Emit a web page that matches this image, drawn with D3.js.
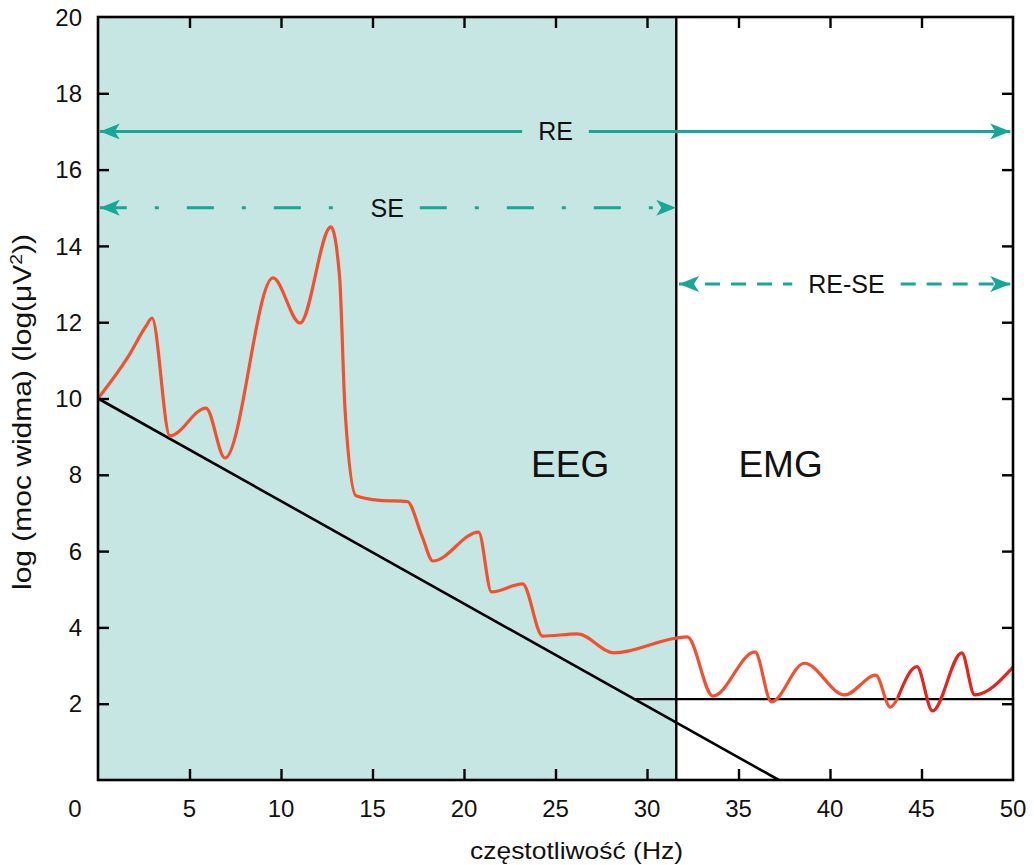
<!DOCTYPE html>
<html>
<head>
<meta charset="utf-8">
<script src="https://cdn.jsdelivr.net/npm/d3@7"></script>
<style>
  html, body { margin: 0; padding: 0; background: #ffffff; }
  svg { display: block; }
  text { font-family: "Liberation Sans", Arial, Helvetica, sans-serif; fill: #111; }
</style>
</head>
<body>
<svg id="chart" width="1034" height="865"></svg>
<script>
// ---- data ----
const xTicks = [0, 5, 10, 15, 20, 25, 30, 35, 40, 45, 50];
const yTicks = [2, 4, 6, 8, 10, 12, 14, 16, 18, 20];

// spectrum (orange part)
const spectrumFreq = [0, 1.64, 2.6, 2.95, 3.93, 5.9, 6.94, 9.56, 11.04, 12.73, 13.2, 13.5, 14.1, 15.4, 16.9, 17.7, 18.3, 20.8, 21.5, 23.2, 24.3, 26.2, 28.2, 31.6, 32.2, 33.6, 35.9, 36.8, 38.6, 40.8, 42.5, 43.3, 43.7];
const spectrumLogPower = [10.0, 11.09, 11.88, 12.11, 9.02, 9.75, 8.44, 13.16, 11.98, 14.5, 13.2, 9.7, 7.45, 7.33, 7.3, 6.4, 5.74, 6.5, 4.93, 5.14, 3.77, 3.83, 3.33, 3.72, 3.75, 2.2, 3.36, 2.05, 3.06, 2.23, 2.75, 1.91, 2.15];
// spectrum (red tail)
const tailFreq = [43.7, 44.75, 45.6, 47.2, 47.9, 50];
const tailLogPower = [2.15, 2.97, 1.81, 3.33, 2.23, 2.96];

// 1/f baseline and noise floor
const baselineFreq = [0, 37.2];
const baselineLogPower = [10, 0];
const floorFreq = [29.3, 50];
const floorLogPower = [2.12, 2.12];

// EEG band
const eegBand = [0, 31.6];

// entropy arrows
const arrowLabels = ["RE", "SE", "RE-SE"];
const arrowFrom = [0.1, 0.1, 31.75];
const arrowTo = [49.85, 31.6, 49.85];
const arrowLevel = [17, 15, 13];
const arrowLabelAt = [25.0, 15.8, 40.9];
const arrowStyles = ["solid", "dashdot", "dashed"];

const regionLabels = ["EEG", "EMG"];
const regionLabelAt = [25.8, 37.3];
const regionLabelLevel = [7.95, 7.95];

// ---- layout ----
const svg = d3.select("#chart");
const L = 98, R = 1013, T = 17, B = 780;
const x = d3.scaleLinear().domain([0, 50]).range([L, R]);
const y = d3.scaleLinear().domain([0, 20]).range([B, T]);

const teal = "#17a796";
const orange = "#f2502f";
const red = "#e8221c";

// shaded EEG band
svg.append("rect")
  .attr("x", x(eegBand[0])).attr("y", T)
  .attr("width", x(eegBand[1]) - x(eegBand[0])).attr("height", B - T)
  .attr("fill", "#c6e6e4");

// lines
const line = d3.line().x(d => x(d[0])).y(d => y(d[1])).curve(d3.curveMonotoneX);
const straight = d3.line().x(d => x(d[0])).y(d => y(d[1]));

svg.append("path")
  .attr("d", straight(d3.zip(baselineFreq, baselineLogPower)))
  .attr("fill", "none").attr("stroke", "#000").attr("stroke-width", 2.6);
svg.append("path")
  .attr("d", straight(d3.zip(floorFreq, floorLogPower)))
  .attr("fill", "none").attr("stroke", "#000").attr("stroke-width", 2.4);

// vertical band boundary
svg.append("line")
  .attr("x1", x(eegBand[1])).attr("x2", x(eegBand[1]))
  .attr("y1", T).attr("y2", B)
  .attr("stroke", "#000").attr("stroke-width", 2.4);

svg.append("path")
  .attr("d", line(d3.zip(spectrumFreq, spectrumLogPower)))
  .attr("fill", "none").attr("stroke", orange).attr("stroke-width", 3.2)
  .attr("stroke-linejoin", "round");
svg.append("path")
  .attr("d", line(d3.zip(tailFreq, tailLogPower)))
  .attr("fill", "none").attr("stroke", red).attr("stroke-width", 3.2)
  .attr("stroke-linejoin", "round");

// axes with inward ticks on all four sides
const tickLen = 11;
function styleAxis(g) {
  g.select(".domain").remove();
  g.selectAll(".tick line").attr("stroke", "#000").attr("stroke-width", 2.4);
}
const xAxis = svg.append("g").attr("transform", `translate(0,${B})`)
  .call(d3.axisBottom(x).tickValues(xTicks.filter(v => v > 0 && v < 50)).tickSize(-tickLen).tickFormat(""));
styleAxis(xAxis);
const xTop = svg.append("g").attr("transform", `translate(0,${T})`)
  .call(d3.axisTop(x).tickValues(xTicks.filter(v => v > 0 && v < 50)).tickSize(-tickLen).tickFormat(""));
styleAxis(xTop);
const yLeft = svg.append("g").attr("transform", `translate(${L},0)`)
  .call(d3.axisLeft(y).tickValues(yTicks.filter(v => v < 20)).tickSize(-tickLen).tickFormat(""));
styleAxis(yLeft);
const yRight = svg.append("g").attr("transform", `translate(${R},0)`)
  .call(d3.axisRight(y).tickValues(yTicks.filter(v => v < 20)).tickSize(-tickLen).tickFormat(""));
styleAxis(yRight);

// tick labels
svg.append("g").selectAll("text").data(xTicks).join("text")
  .attr("x", d => d === 0 ? x(d) - 23 : x(d))
  .attr("y", 817)
  .attr("text-anchor", "middle")
  .style("font-size", "24px")
  .text(d => d);
svg.append("g").selectAll("text").data(yTicks).join("text")
  .attr("x", 82)
  .attr("y", d => y(d))
  .attr("dy", "0.36em")
  .attr("text-anchor", "end")
  .style("font-size", "24px")
  .text(d => d);

// frame
svg.append("rect")
  .attr("x", L).attr("y", T).attr("width", R - L).attr("height", B - T)
  .attr("fill", "none").attr("stroke", "#000").attr("stroke-width", 2.6);

// axis titles
svg.append("text")
  .attr("x", 470).attr("y", 859)
  .attr("textLength", 213).attr("lengthAdjust", "spacingAndGlyphs")
  .style("font-size", "24px")
  .text("częstotliwość (Hz)");
svg.append("text")
  .attr("transform", `translate(31,590) rotate(-90)`)
  .attr("textLength", 356).attr("lengthAdjust", "spacingAndGlyphs")
  .style("font-size", "25px")
  .html("log (moc widma) (log(μV<tspan dy='-9' font-size='16'>2</tspan><tspan dy='9'>))</tspan>");

// region labels
svg.append("g").selectAll("text").data(regionLabels).join("text")
  .attr("x", (d, i) => x(regionLabelAt[i]))
  .attr("y", (d, i) => y(regionLabelLevel[i]))
  .attr("text-anchor", "middle")
  .style("font-size", "37px")
  .text(d => d);

// arrows
const defs = svg.append("defs");
defs.append("marker").attr("id", "ahead")
  .attr("viewBox", "0 0 20 16").attr("refX", 20).attr("refY", 8)
  .attr("markerWidth", 20).attr("markerHeight", 16)
  .attr("markerUnits", "userSpaceOnUse")
  .attr("orient", "auto-start-reverse")
  .append("path").attr("d", "M0,0 L20,8 L0,16 L5,8 Z").attr("fill", teal);

const dashFor = { solid: null, dashdot: "27,28,4,28", dashed: "15,11" };
arrowLabels.forEach((lab, i) => {
  const yy = y(arrowLevel[i]);
  const cx = x(arrowLabelAt[i]);
  const t = svg.append("text")
    .attr("x", cx).attr("y", yy).attr("dy", "0.36em")
    .attr("text-anchor", "middle")
    .style("font-size", "25px")
    .text(lab);
  const w = t.node().getComputedTextLength();
  const gap = 16;
  const x0 = x(arrowFrom[i]), x1 = x(arrowTo[i]);
  svg.append("line")
    .attr("x1", x0).attr("x2", cx - w / 2 - gap).attr("y1", yy).attr("y2", yy)
    .attr("stroke", teal).attr("stroke-width", 3)
    .attr("stroke-dasharray", dashFor[arrowStyles[i]])
    .attr("marker-start", "url(#ahead)");
  svg.append("line")
    .attr("x1", cx + w / 2 + gap).attr("x2", x1).attr("y1", yy).attr("y2", yy)
    .attr("stroke", teal).attr("stroke-width", 3)
    .attr("stroke-dasharray", dashFor[arrowStyles[i]])
    .attr("marker-end", "url(#ahead)");
});
</script>
</body>
</html>
